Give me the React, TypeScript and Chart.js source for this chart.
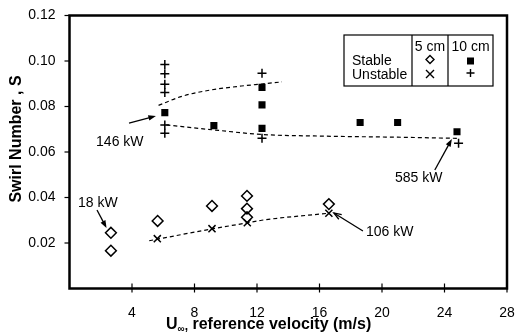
import React, { useEffect, useRef } from 'react';
import { Chart, registerables } from 'chart.js';

Chart.register(...registerables);

const FONT = 'Arial, "Liberation Sans", Helvetica, sans-serif';

// Axis ticks
const xTickValues = [4, 8, 12, 16, 20, 24, 28];
const yTickValues = [0.02, 0.04, 0.06, 0.08, 0.1, 0.12];

// 5 cm, stable (open diamonds)
const stable5X = [2.65, 2.65, 5.64, 9.12, 11.36, 11.36, 11.36, 16.6];
const stable5Y = [0.0245, 0.0166, 0.0297, 0.0363, 0.0407, 0.0351, 0.0313, 0.0371];

// 5 cm, unstable (x)
const unstable5X = [5.62, 9.12, 11.38, 16.6];
const unstable5Y = [0.0219, 0.0263, 0.0289, 0.0331];

// 10 cm, stable (filled squares)
const stable10X = [6.1, 9.24, 12.32, 12.32, 12.32, 18.6, 21.0, 24.8];
const stable10Y = [0.0773, 0.0716, 0.0884, 0.0807, 0.0704, 0.0730, 0.0730, 0.0689];

// 10 cm, unstable (+)
const unstable10X = [6.1, 6.1, 6.1, 6.1, 6.1, 6.1, 12.32, 12.32, 24.9];
const unstable10Y = [0.0985, 0.0944, 0.0898, 0.0861, 0.0719, 0.0682, 0.0946, 0.066, 0.0638];

// dashed trend curves
const trendUpperX = [5.7, 7.2, 9.0, 11.0, 12.3, 13.6];
const trendUpperY = [0.0805, 0.0845, 0.0872, 0.0890, 0.0899, 0.0908];
const trendMiddleX = [6.2, 9.25, 12.3, 16.0, 21.0, 24.8];
const trendMiddleY = [0.0719, 0.0697, 0.0677, 0.0670, 0.0665, 0.066];
const trendLowerX = [5.1, 9.12, 11.4, 12.3, 16.6];
const trendLowerY = [0.021, 0.0262, 0.0289, 0.0300, 0.0331];

// annotations (data coordinates)
const annoTexts = ['146 kW', '18 kW', '106 kW', '585 kW'];
const annoTextX = [1.7, 0.54, 18.97, 20.83];
const annoTextY = [0.0644, 0.0376, 0.0248, 0.0486];
const arrowTailX = [3.81, 1.76, 18.78, 23.38];
const arrowTailY = [0.0727, 0.0345, 0.0253, 0.0521];
const arrowHeadX = [5.53, 2.37, 16.92, 24.47];
const arrowHeadY = [0.0758, 0.0266, 0.0332, 0.0657];
const arrowFilled = [true, true, false, true];

const legendCols = ['5 cm', '10 cm'];
const legendRows = ['Stable', 'Unstable'];

const pts = (xs: number[], ys: number[]) => xs.map((x, i) => ({ x, y: ys[i] }));

function drawArrow(ctx: CanvasRenderingContext2D, x1: number, y1: number, x2: number, y2: number, filled: boolean) {
  const ang = Math.atan2(y2 - y1, x2 - x1);
  const L = 8;
  const W = 0.35;
  ctx.beginPath();
  ctx.moveTo(x1, y1);
  ctx.lineTo(x2 - (filled ? Math.cos(ang) * L * 0.8 : 0), y2 - (filled ? Math.sin(ang) * L * 0.8 : 0));
  ctx.stroke();
  const ax = x2 - Math.cos(ang - W) * L;
  const ay = y2 - Math.sin(ang - W) * L;
  const bx = x2 - Math.cos(ang + W) * L;
  const by = y2 - Math.sin(ang + W) * L;
  ctx.beginPath();
  if (filled) {
    ctx.moveTo(x2, y2);
    ctx.lineTo(ax, ay);
    ctx.lineTo(bx, by);
    ctx.closePath();
    ctx.fill();
  } else {
    ctx.moveTo(ax, ay);
    ctx.lineTo(x2, y2);
    ctx.lineTo(bx, by);
    ctx.stroke();
  }
}

const overlay = {
  id: 'overlay',
  afterDraw(chart: any) {
    const { ctx, chartArea: a, scales } = chart;
    const xs = scales.x;
    const ys = scales.y;
    ctx.save();
    ctx.strokeStyle = '#000';
    ctx.fillStyle = '#000';
    // frame
    ctx.lineWidth = 2.5;
    ctx.strokeRect(a.left, a.top, a.right - a.left, a.bottom - a.top);
    // ticks
    ctx.lineWidth = 1.2;
    yTickValues.forEach((v) => {
      const py = ys.getPixelForValue(v);
      ctx.beginPath();
      ctx.moveTo(a.left - 5, py);
      ctx.lineTo(a.left, py);
      ctx.stroke();
    });
    xTickValues.forEach((v) => {
      const px = xs.getPixelForValue(v);
      ctx.beginPath();
      ctx.moveTo(px, a.bottom - 5);
      ctx.lineTo(px, a.bottom + 4);
      ctx.stroke();
    });

    // annotations
    ctx.font = `14px ${FONT}`;
    ctx.textAlign = 'left';
    ctx.textBaseline = 'middle';
    annoTexts.forEach((t, i) => {
      ctx.fillText(t, xs.getPixelForValue(annoTextX[i]), ys.getPixelForValue(annoTextY[i]));
    });
    ctx.lineWidth = 1.3;
    annoTexts.forEach((_, i) => {
      drawArrow(
        ctx,
        xs.getPixelForValue(arrowTailX[i]),
        ys.getPixelForValue(arrowTailY[i]),
        xs.getPixelForValue(arrowHeadX[i]),
        ys.getPixelForValue(arrowHeadY[i]),
        arrowFilled[i]
      );
    });

    // legend table
    const bx = 344, by = 35, bw = 149, bh = 51;
    const c1 = 412, c2 = 448;
    ctx.lineWidth = 1.2;
    ctx.strokeRect(bx, by, bw, bh);
    ctx.beginPath();
    ctx.moveTo(c1, by); ctx.lineTo(c1, by + bh);
    ctx.moveTo(c2, by); ctx.lineTo(c2, by + bh);
    ctx.stroke();
    ctx.font = `14px ${FONT}`;
    ctx.textAlign = 'center';
    ctx.fillText(legendCols[0], (c1 + c2) / 2, 47);
    ctx.fillText(legendCols[1], (c2 + bx + bw) / 2, 47);
    ctx.textAlign = 'left';
    ctx.fillText(legendRows[0], 352, 61.5);
    ctx.fillText(legendRows[1], 352, 75.5);
    const mx1 = (c1 + c2) / 2;
    const mx2 = (c2 + bx + bw) / 2;
    // diamond
    ctx.lineWidth = 1.4;
    ctx.beginPath();
    ctx.moveTo(mx1, 55.5); ctx.lineTo(mx1 + 4, 59.5); ctx.lineTo(mx1, 63.5); ctx.lineTo(mx1 - 4, 59.5); ctx.closePath();
    ctx.stroke();
    // x
    ctx.beginPath();
    ctx.moveTo(mx1 - 4, 70); ctx.lineTo(mx1 + 4, 78);
    ctx.moveTo(mx1 + 4, 70); ctx.lineTo(mx1 - 4, 78);
    ctx.stroke();
    // square
    ctx.fillRect(mx2 - 3.5, 57.5, 7, 7);
    // plus
    ctx.beginPath();
    ctx.moveTo(mx2 - 4, 73); ctx.lineTo(mx2 + 4, 73);
    ctx.moveTo(mx2, 69); ctx.lineTo(mx2, 77);
    ctx.stroke();

    // x axis title with subscript infinity
    ctx.textAlign = 'left';
    ctx.textBaseline = 'alphabetic';
    let tx = 166;
    const base = 328.5;
    ctx.font = `bold 16px ${FONT}`;
    ctx.fillText('U', tx, base);
    tx += ctx.measureText('U').width;
    ctx.font = `bold 10px ${FONT}`;
    ctx.fillText('\u221e', tx, base + 3);
    tx += ctx.measureText('\u221e').width;
    ctx.font = `bold 12px ${FONT}`;
    ctx.fillText(',', tx, base + 1);
    tx += ctx.measureText(',').width;
    ctx.font = `bold 16px ${FONT}`;
    ctx.fillText(' reference velocity (m/s)', tx, base);

    // y axis title
    ctx.save();
    ctx.translate(20.5, 139);
    ctx.rotate(-Math.PI / 2);
    ctx.textAlign = 'center';
    ctx.font = `bold 16px ${FONT}`;
    ctx.fillText('Swirl Number , S', 0, 0);
    ctx.restore();

    ctx.restore();
  },
};

export default function App() {
  const ref = useRef<HTMLCanvasElement>(null);
  useEffect(() => {
    if (!ref.current) return;
    const dashed = {
      showLine: true,
      borderColor: '#000',
      borderWidth: 1.2,
      borderDash: [4, 3],
      pointRadius: 0,
      cubicInterpolationMode: 'monotone' as const,
      fill: false,
    };
    const chart = new Chart(ref.current, {
      type: 'scatter',
      data: {
        datasets: [
          { label: '5 cm stable', data: pts(stable5X, stable5Y), pointStyle: 'rectRot', pointRadius: 5.4, borderColor: '#000', backgroundColor: 'rgba(255,255,255,0)', borderWidth: 1.5 },
          { label: '5 cm unstable', data: pts(unstable5X, unstable5Y), pointStyle: 'crossRot', pointRadius: 5, borderColor: '#000', backgroundColor: '#000', borderWidth: 1.5 },
          { label: '10 cm stable', data: pts(stable10X, stable10Y), pointStyle: 'rect', pointRadius: 5, borderColor: '#000', backgroundColor: '#000', borderWidth: 0 },
          { label: '10 cm unstable', data: pts(unstable10X, unstable10Y), pointStyle: 'cross', pointRadius: 4.5, borderColor: '#000', backgroundColor: '#000', borderWidth: 1.5 },
          { label: 'trend upper', data: pts(trendUpperX, trendUpperY), ...dashed },
          { label: 'trend middle', data: pts(trendMiddleX, trendMiddleY), ...dashed },
          { label: 'trend lower', data: pts(trendLowerX, trendLowerY), ...dashed },
        ] as any,
      },
      options: {
        responsive: false,
        animation: false,
        events: [],
        layout: { padding: { top: 15.5, right: 8, left: 0, bottom: 0 } },
        plugins: { legend: { display: false }, tooltip: { enabled: false }, title: { display: false } },
        scales: {
          x: {
            type: 'linear',
            min: 0,
            max: 28,
            grid: { display: false },
            border: { display: false },
            ticks: {
              stepSize: 4,
              padding: 8,
              color: '#000',
              font: { family: FONT, size: 14 },
              callback: (v: any) => (Number(v) === 0 ? '' : String(v)),
            },
            afterFit: (s: any) => { s.height = 43.5; s.paddingLeft = 0; s.paddingRight = 0; },
          },
          y: {
            type: 'linear',
            min: 0,
            max: 0.12,
            grid: { display: false },
            border: { display: false },
            ticks: {
              stepSize: 0.02,
              padding: 6,
              color: '#000',
              font: { family: FONT, size: 14 },
              callback: (v: any) => (Math.abs(Number(v)) < 1e-9 ? '' : Number(v).toFixed(2)),
            },
            afterFit: (s: any) => { s.width = 69.5; s.paddingTop = 0; s.paddingBottom = 0; },
          },
        },
      } as any,
      plugins: [overlay],
    });
    return () => chart.destroy();
  }, []);
  return (
    <div style={{ position: 'fixed', left: 0, top: 0, width: 515, height: 332, background: '#fff' }}>
      <canvas ref={ref} width={515} height={332} style={{ display: 'block' }} />
    </div>
  );
}
